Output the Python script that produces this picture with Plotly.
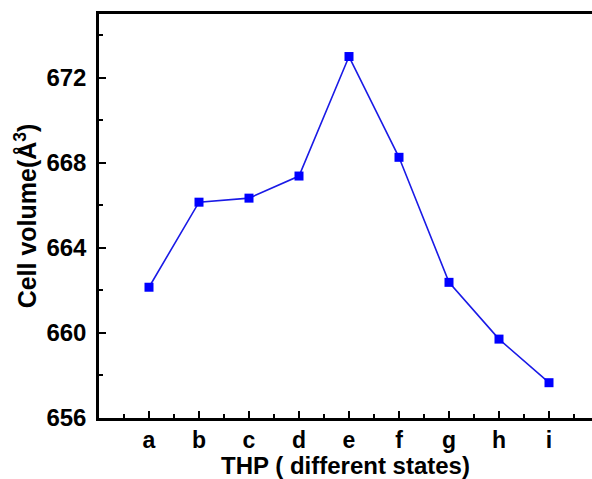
import plotly.graph_objects as go

states = ["a", "b", "c", "d", "e", "f", "g", "h", "i"]
cell_volume = [662.15, 666.15, 666.34, 667.38, 673.0, 668.26, 662.38, 659.71, 657.66]
y_ticks = [656, 660, 664, 668, 672]

xpos = list(range(1, len(states) + 1))

FONT = "Liberation Sans, Arial, sans-serif"

fig = go.Figure()
fig.add_trace(go.Scatter(
    x=xpos, y=cell_volume, mode="lines+markers",
    line=dict(color="#1a1ae6", width=1.6),
    marker=dict(symbol="square", size=9, color="#0000ff",
                line=dict(width=0)),
    showlegend=False,
))

fig.update_layout(
    width=592, height=479,
    margin=dict(l=99, r=0, t=14, b=61),
    paper_bgcolor="white", plot_bgcolor="white",
    font=dict(family=FONT, color="black"),
)

fig.update_xaxes(
    range=[0, 9.86],
    tickmode="array", tickvals=xpos, ticktext=states,
    ticks="inside", ticklen=7, tickwidth=2, tickcolor="black",
    minor=dict(tickmode="linear", tick0=0, dtick=0.5, ticks="inside",
               ticklen=4, tickwidth=2, tickcolor="black"),
    showline=True, linewidth=2.5, linecolor="black", mirror=True,
    showgrid=False, zeroline=False,
    tickfont=dict(size=23, family=FONT, weight="bold"),
    title=dict(text="THP ( different states)",
               font=dict(size=24, family=FONT, weight="bold"), standoff=0),
)

fig.update_yaxes(
    range=[656, 675],
    tickmode="array", tickvals=y_ticks,
    ticks="inside", ticklen=7, tickwidth=2, tickcolor="black",
    minor=dict(tickmode="linear", tick0=656, dtick=2, ticks="inside",
               ticklen=4, tickwidth=2, tickcolor="black"),
    showline=True, linewidth=2.5, linecolor="black",
    showgrid=False, zeroline=False,
    ticklabelstandoff=5,
    tickfont=dict(size=24, family=FONT, weight="bold"),
    title=dict(text="Cell volume(Å<sup>3</sup>)",
               font=dict(size=25, family=FONT, weight="bold"), standoff=3),
)

fig.write_html("out.html")
